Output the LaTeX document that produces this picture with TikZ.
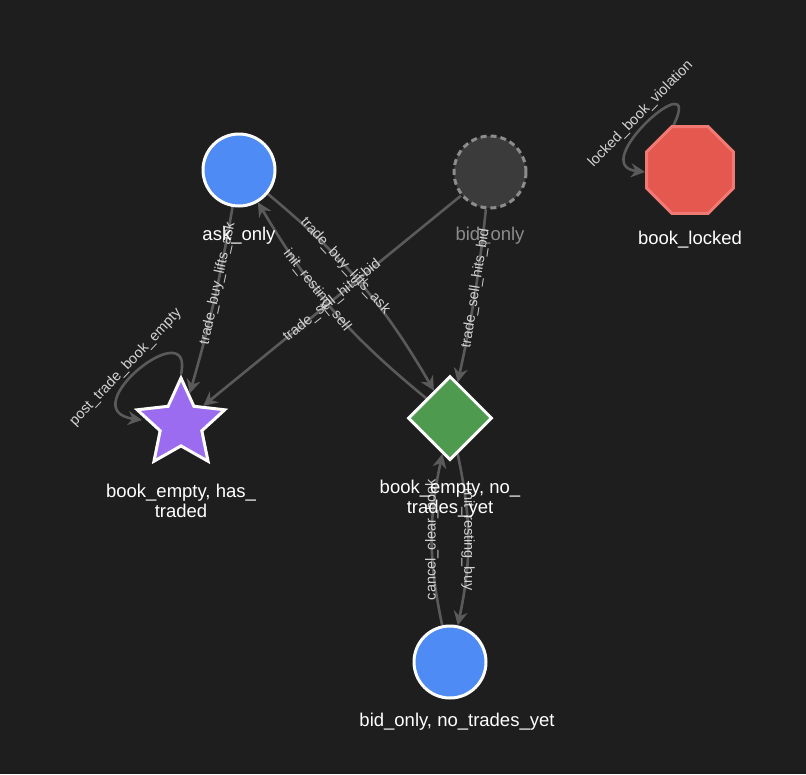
\documentclass[tikz,border=0pt]{standalone}
\usepackage{fontspec}
\setmainfont{Liberation Sans}
\usetikzlibrary{shapes.geometric,arrows.meta,backgrounds}
\definecolor{bg}{HTML}{1E1E1E}
\definecolor{edge}{HTML}{5A5A5A}
\definecolor{elab}{HTML}{D2D2D2}
\definecolor{blue1}{HTML}{4F8BF5}
\definecolor{purp}{HTML}{9B6CF0}
\definecolor{grn}{HTML}{4E9A4E}
\definecolor{redf}{HTML}{E5584F}
\definecolor{redb}{HTML}{F07A72}
\begin{document}
\begin{tikzpicture}[x=1pt,y=-1pt,
  e/.style={draw=edge,line width=2.6pt,-{Stealth[length=14pt,width=14pt]}},
  el/.style={sloped,text=elab,font=\fontsize{14.5}{16}\selectfont,inner sep=1pt},
  lab/.style={text=white,font=\fontsize{18.5}{20}\selectfont,align=center},
  circ/.style={circle,minimum size=72pt,inner sep=0pt,fill=blue1,draw=white,line width=3pt}]
\useasboundingbox (0,0) rectangle (806,774);
\node[circ] (ask) at (239,170) {};
\node[circle,minimum size=72pt,inner sep=0pt,fill=black!77,draw=black!45,line width=3pt,dash pattern=on 6pt off 4pt] (bid) at (490,172) {};
\node[star,star points=5,star point ratio=2.1,minimum size=92pt,inner sep=0pt,fill=purp,draw=white,line width=3pt] (star) at (181,424) {};
\node[diamond,minimum size=84pt,inner sep=0pt,fill=grn,draw=white,line width=3pt] (dia) at (450,418) {};
\node[circ] (bot) at (450,662) {};
\node[regular polygon,regular polygon sides=8,minimum size=94pt,inner sep=0pt,fill=redf,draw=redb,line width=3pt] (lock) at (690,170) {};
\coordinate (sl) at (142,420);
\coordinate (ll) at (645,172);
\begin{scope}[on background layer]
\fill[bg] (0,0) rectangle (806,774);
\draw[e] (ask) to[bend left=3] node[el,pos=0.4] {trade\_buy\_lifts\_ask} (star);
\draw[e] (bid) -- node[el,pos=0.5] {trade\_sell\_hits\_bid} (star);
\draw[e] (ask) to[bend left=10] node[el,pos=0.4] {trade\_buy\_lifts\_ask} (dia);
\draw[e] (dia) to[bend left=10] node[el,pos=0.6] {init\_resting\_sell} (ask);
\draw[e] (bid) to[bend left=3] node[el,pos=0.45] {trade\_sell\_hits\_bid} (dia);
\draw[e] (bot) to[bend left=12] node[el,pos=0.5] {cancel\_clear\_book} (dia);
\draw[e] (dia) to[bend left=12] node[el,pos=0.5] {init\_resting\_buy} (bot);
\draw[e] (star.90) .. controls (195,310) and (70,410) .. node[el,pos=0.55,above=2pt] {post\_trade\_book\_empty} (sl);
\draw[e] (lock.110) .. controls (705,60) and (585,165) .. node[el,pos=0.5,above=2pt] {locked\_book\_violation} (ll);
\end{scope}
\node[lab] at (239,236) {ask\_only};
\node[lab,text=black!45] at (490,236) {bid\_only};
\node[lab] at (690,240) {book\_locked};
\node[lab] at (181,501) {book\_empty, has\_\\traded};
\node[lab] at (450,499) {book\_empty, no\_\\trades\_yet};
\node[lab] at (457,722) {bid\_only, no\_trades\_yet};
\end{tikzpicture}
\end{document}
